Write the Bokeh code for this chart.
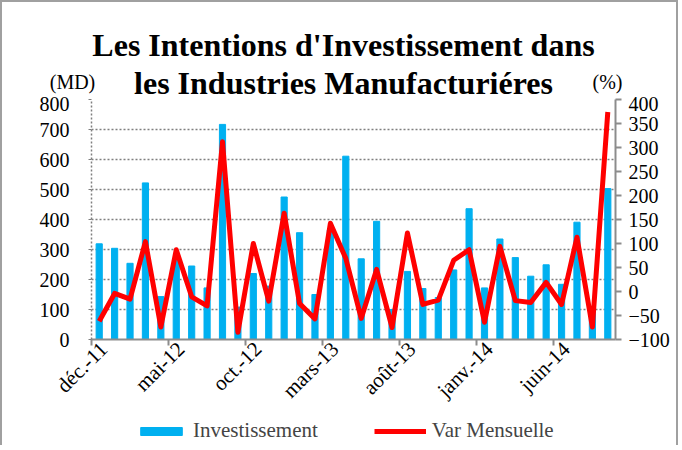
from bokeh.plotting import figure
from bokeh.layouts import column
from bokeh.models import (Range1d, LinearAxis, FixedTicker, Legend, LegendItem,
                          ColumnDataSource)
from bokeh.core.properties import value
from bokeh.embed import file_html
from bokeh.resources import INLINE

# ---------------- data ----------------
months = ["déc.-11", "janv.-12", "févr.-12", "mars-12", "avr.-12", "mai-12",
          "juin-12", "juil.-12", "août-12", "sept.-12", "oct.-12", "nov.-12",
          "déc.-12", "janv.-13", "févr.-13", "mars-13", "avr.-13", "mai-13",
          "juin-13", "juil.-13", "août-13", "sept.-13", "oct.-13", "nov.-13",
          "déc.-13", "janv.-14", "févr.-14", "mars-14", "avr.-14", "mai-14",
          "juin-14", "juil.-14", "août-14", "sept.-14"]
investissement = [319, 304, 254, 522, 143, 268, 245, 172, 717, 108, 220, 178,
                  475, 356, 150, 365, 611, 269, 394, 100, 227, 170, 140, 232,
                  436, 172, 335, 273, 211, 249, 184, 391, 105, 503]
var_mensuelle = [-62, -4, -16, 104, -74, 87, -11, -30, 312, -85, 100, -20,
                 163, -25, -57, 142, 69, -56, 46, -75, 122, -27, -18, 65,
                 87, -64, 94, -19, -23, 19, -27, 113, -74, 374]
tick_every = 5
left_ticks = [0, 100, 200, 300, 400, 500, 600, 700, 800]
right_ticks = [-100, -50, 0, 50, 100, 150, 200, 250, 300, 350, 400]
title_lines = ["Les Intentions d'Investissement dans",
               "les Industries Manufacturiéres"]
unit_left = "(MD)"
unit_right = "(%)"
series_names = ["Investissement", "Var Mensuelle"]

n = len(months)
xs = [i + 0.5 for i in range(n)]
src = ColumnDataSource(dict(x=xs, inv=investissement, var=var_mensuelle))

SERIF = "Liberation Serif"
GRID = "#7f7f7f"
AX = "#8c8c8c"
BLUE = "#00B0F0"
RED = "#FF0000"
W = 674
OX, OY = 5, 6          # canvas origin on the page
H_HEAD = 94
H_CHART = 323
H_FOOT = 26


def common(fig):
    fig.xaxis.visible = False
    fig.yaxis.visible = False
    fig.xgrid.visible = False
    fig.ygrid.visible = False
    fig.frame_align = False
    return fig


# ---------------- head: title and unit labels ----------------
head = common(figure(width=W, height=H_HEAD, output_backend="svg",
                     toolbar_location=None, x_range=Range1d(0, W),
                     y_range=Range1d(0, H_HEAD), min_border=0,
                     outline_line_color=None))


def hy(page_y):
    return H_HEAD - (page_y - OY)


head.text(x=[346 - OX, 346 - OX], y=[hy(48), hy(86)], text=title_lines,
          text_align="center", text_baseline="alphabetic",
          text_font=value(SERIF), text_font_style="bold",
          text_font_size="32px", text_color="black")
head.text(x=[75 - OX, 610 - OX], y=[hy(85), hy(85)], text=[unit_left, unit_right],
          text_align="center", text_baseline="alphabetic",
          text_font=value(SERIF), text_font_size="20px", text_color="black")

# ---------------- chart ----------------
p = figure(width=W, height=H_CHART, output_backend="svg", toolbar_location=None,
           x_range=Range1d(0, n), y_range=Range1d(0, 800),
           min_border_left=89, min_border_right=61, min_border_top=3,
           min_border_bottom=80, outline_line_color=None)
p.extra_y_ranges = {"pct": Range1d(-100, 400)}

p.vbar(x="x", top="inv", width=0.4, source=src, color=BLUE)
p.line(x="x", y="var", source=src, y_range_name="pct",
       line_color=RED, line_width=5, line_join="round")

p.xgrid.visible = False
p.ygrid.ticker = FixedTicker(ticks=left_ticks)
p.ygrid.grid_line_color = GRID
p.ygrid.grid_line_dash = "2 2"
p.ygrid.grid_line_width = 1.5

ya = p.yaxis[0]
ya.ticker = FixedTicker(ticks=left_ticks)
ya.axis_line_color = GRID
ya.axis_line_dash = "2 2"
ya.axis_line_width = 1.5
ya.major_tick_line_color = GRID
ya.major_tick_out = 3
ya.major_tick_in = 0
ya.minor_tick_line_color = None
ya.major_label_standoff = 19
ya.major_label_text_font = SERIF
ya.major_label_text_font_size = "20px"
ya.major_label_text_color = "black"

ra = LinearAxis(y_range_name="pct", ticker=FixedTicker(ticks=right_ticks))
ra.axis_line_color = AX
ra.axis_line_width = 2
ra.major_tick_line_color = AX
ra.major_tick_line_width = 2
ra.major_tick_out = 6
ra.major_tick_in = 0
ra.minor_tick_line_color = None
ra.major_label_standoff = 7
ra.major_label_text_font = SERIF
ra.major_label_text_font_size = "20px"
ra.major_label_text_color = "black"
p.add_layout(ra, "right")

xa = p.xaxis[0]
xt = list(range(0, n, tick_every))
xa.ticker = FixedTicker(ticks=xt)
xa.major_label_overrides = {t: "" for t in xt}
xa.axis_line_color = AX
xa.axis_line_width = 2
xa.major_tick_line_color = AX
xa.major_tick_line_width = 2
xa.major_tick_out = 6
xa.major_tick_in = 0
xa.minor_tick_line_color = None
xa.major_label_standoff = 0
xa.major_label_text_font_size = "1px"

LAB_SHIFT = 0.8
xl = LinearAxis(ticker=FixedTicker(ticks=[t + LAB_SHIFT for t in xt]))
xl.major_label_overrides = {t + LAB_SHIFT: months[t] for t in xt}
xl.major_label_orientation = 0.785
xl.axis_line_color = None
xl.major_tick_line_color = None
xl.minor_tick_line_color = None
xl.major_tick_out = 0
xl.major_tick_in = 0
xl.major_label_standoff = 0
xl.major_label_text_font = SERIF
xl.major_label_text_font_size = "21px"
xl.major_label_text_color = "black"
p.add_layout(xl, "below")

# ---------------- foot: legend ----------------
foot = common(figure(width=W, height=H_FOOT, output_backend="svg",
                     toolbar_location=None, x_range=Range1d(0, 1),
                     y_range=Range1d(0, 1), min_border=0,
                     outline_line_color=None))
# legend proxies: one hidden sample each (outside the visible range)
lb = foot.vbar(x=[-5], top=[-5], bottom=[-6], width=0.4, color=BLUE)
ll = foot.line(x=[-6, -5], y=[-5, -5], line_color=RED, line_width=5)
legend = Legend(items=[LegendItem(label=series_names[0], renderers=[lb]),
                       LegendItem(label=series_names[1], renderers=[ll])],
                orientation="horizontal", location=(133, 2),
                label_text_font=SERIF, label_text_font_size="21px",
                glyph_width=52, glyph_height=10, label_standoff=6, spacing=56,
                border_line_color=None, background_fill_alpha=0,
                padding=0, margin=0)
foot.add_layout(legend, "center")

layout = column(head, p, foot, spacing=0)
layout.styles = {"border-left": "2px solid #a0a0a0",
                 "border-top": "2px solid #a0a0a0",
                 "border-right": "2px solid #a0a0a0"}

open("out.html", "w").write(file_html(layout, INLINE))
